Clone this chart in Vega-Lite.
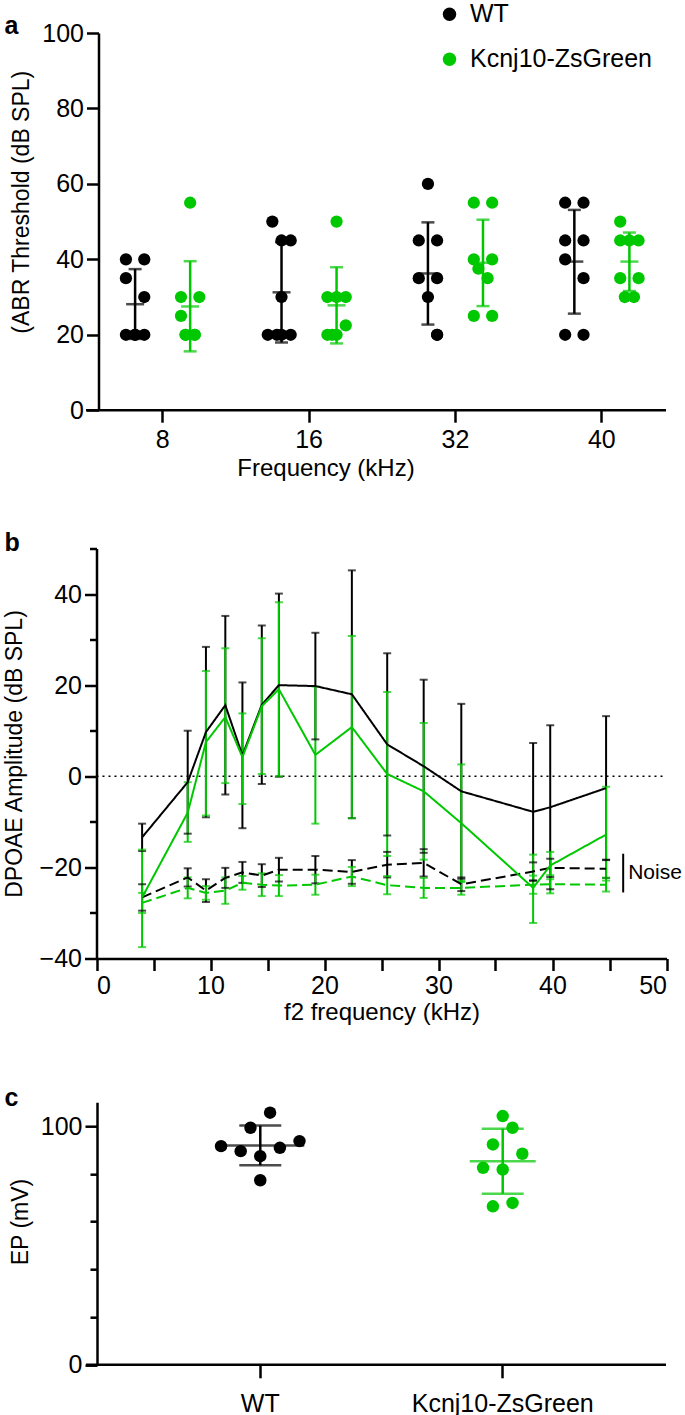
{
  "$schema": "https://vega.github.io/schema/vega-lite/v6.json",
  "padding": {"left": 3, "top": 1, "right": 0, "bottom": 0},
  "background": "white",
  "config": {
    "font": "Liberation Sans",
    "view": {"stroke": null},
    "axis": {"domainColor": "#000", "domainWidth": 2.5, "tickColor": "#000", "tickWidth": 2.5, "tickSize": 12, "labelColor": "#000", "labelFontSize": 25, "titleColor": "#000", "titleFontSize": 24, "titleFontWeight": "normal", "grid": false, "labelPadding": 3},
    "title": {"fontSize": 25, "fontWeight": "bold", "color": "#000", "anchor": "start", "frame": "group"}
  },
  "datasets": {
    "abrPts": [
      {"freq": "8", "g": "WT", "v": 40, "col": 2}, {"freq": "8", "g": "WT", "v": 40, "col": 6}, {"freq": "8", "g": "WT", "v": 35, "col": 2}, {"freq": "8", "g": "WT", "v": 30, "col": 6},
      {"freq": "8", "g": "WT", "v": 20, "col": 2}, {"freq": "8", "g": "WT", "v": 20, "col": 4}, {"freq": "8", "g": "WT", "v": 20, "col": 6}, {"freq": "8", "g": "WT", "v": 20, "col": 4},
      {"freq": "8", "g": "Kcnj10-ZsGreen", "v": 55, "col": 16}, {"freq": "8", "g": "Kcnj10-ZsGreen", "v": 30, "col": 14}, {"freq": "8", "g": "Kcnj10-ZsGreen", "v": 30, "col": 18}, {"freq": "8", "g": "Kcnj10-ZsGreen", "v": 25, "col": 14},
      {"freq": "8", "g": "Kcnj10-ZsGreen", "v": 20, "col": 15}, {"freq": "8", "g": "Kcnj10-ZsGreen", "v": 20, "col": 17}, {"freq": "8", "g": "Kcnj10-ZsGreen", "v": 20, "col": 15}, {"freq": "8", "g": "Kcnj10-ZsGreen", "v": 20, "col": 17},
      {"freq": "16", "g": "WT", "v": 50, "col": 2}, {"freq": "16", "g": "WT", "v": 45, "col": 4}, {"freq": "16", "g": "WT", "v": 45, "col": 6}, {"freq": "16", "g": "WT", "v": 30, "col": 4},
      {"freq": "16", "g": "WT", "v": 20, "col": 1}, {"freq": "16", "g": "WT", "v": 20, "col": 3}, {"freq": "16", "g": "WT", "v": 20, "col": 4}, {"freq": "16", "g": "WT", "v": 20, "col": 6},
      {"freq": "16", "g": "Kcnj10-ZsGreen", "v": 50, "col": 16}, {"freq": "16", "g": "Kcnj10-ZsGreen", "v": 30, "col": 14}, {"freq": "16", "g": "Kcnj10-ZsGreen", "v": 30, "col": 16}, {"freq": "16", "g": "Kcnj10-ZsGreen", "v": 30, "col": 18},
      {"freq": "16", "g": "Kcnj10-ZsGreen", "v": 22.5, "col": 18}, {"freq": "16", "g": "Kcnj10-ZsGreen", "v": 20, "col": 14}, {"freq": "16", "g": "Kcnj10-ZsGreen", "v": 20, "col": 16}, {"freq": "16", "g": "Kcnj10-ZsGreen", "v": 20, "col": 15},
      {"freq": "32", "g": "WT", "v": 60, "col": 4}, {"freq": "32", "g": "WT", "v": 45, "col": 2}, {"freq": "32", "g": "WT", "v": 45, "col": 6}, {"freq": "32", "g": "WT", "v": 35, "col": 2},
      {"freq": "32", "g": "WT", "v": 35, "col": 6}, {"freq": "32", "g": "WT", "v": 30, "col": 4}, {"freq": "32", "g": "WT", "v": 20, "col": 6}, {"freq": "32", "g": "WT", "v": 20, "col": 6},
      {"freq": "32", "g": "Kcnj10-ZsGreen", "v": 55, "col": 14}, {"freq": "32", "g": "Kcnj10-ZsGreen", "v": 55, "col": 18}, {"freq": "32", "g": "Kcnj10-ZsGreen", "v": 40, "col": 14}, {"freq": "32", "g": "Kcnj10-ZsGreen", "v": 40, "col": 18},
      {"freq": "32", "g": "Kcnj10-ZsGreen", "v": 37.5, "col": 15}, {"freq": "32", "g": "Kcnj10-ZsGreen", "v": 35, "col": 17}, {"freq": "32", "g": "Kcnj10-ZsGreen", "v": 25, "col": 14}, {"freq": "32", "g": "Kcnj10-ZsGreen", "v": 25, "col": 18},
      {"freq": "40", "g": "WT", "v": 55, "col": 2}, {"freq": "40", "g": "WT", "v": 55, "col": 6}, {"freq": "40", "g": "WT", "v": 45, "col": 2}, {"freq": "40", "g": "WT", "v": 45, "col": 6},
      {"freq": "40", "g": "WT", "v": 40, "col": 2}, {"freq": "40", "g": "WT", "v": 35, "col": 6}, {"freq": "40", "g": "WT", "v": 20, "col": 2}, {"freq": "40", "g": "WT", "v": 20, "col": 6},
      {"freq": "40", "g": "Kcnj10-ZsGreen", "v": 50, "col": 14}, {"freq": "40", "g": "Kcnj10-ZsGreen", "v": 45, "col": 14}, {"freq": "40", "g": "Kcnj10-ZsGreen", "v": 45, "col": 16}, {"freq": "40", "g": "Kcnj10-ZsGreen", "v": 45, "col": 18},
      {"freq": "40", "g": "Kcnj10-ZsGreen", "v": 35, "col": 14}, {"freq": "40", "g": "Kcnj10-ZsGreen", "v": 35, "col": 18}, {"freq": "40", "g": "Kcnj10-ZsGreen", "v": 30, "col": 15}, {"freq": "40", "g": "Kcnj10-ZsGreen", "v": 30, "col": 17}
    ],
    "abrSum": [
      {"freq": "8", "g": "WT", "col": 4, "m": 28.1, "lo": 18.9, "hi": 37.4},
      {"freq": "8", "g": "Kcnj10-ZsGreen", "col": 16, "m": 27.5, "lo": 15.6, "hi": 39.5},
      {"freq": "16", "g": "WT", "col": 4, "m": 31.25, "lo": 17.95, "hi": 44.55},
      {"freq": "16", "g": "Kcnj10-ZsGreen", "col": 16, "m": 27.8, "lo": 17.7, "hi": 37.9},
      {"freq": "32", "g": "WT", "col": 4, "m": 36.25, "lo": 22.7, "hi": 49.8},
      {"freq": "32", "g": "Kcnj10-ZsGreen", "col": 16, "m": 39.1, "lo": 27.6, "hi": 50.5},
      {"freq": "40", "g": "WT", "col": 4, "m": 39.4, "lo": 25.6, "hi": 53.1},
      {"freq": "40", "g": "Kcnj10-ZsGreen", "col": 16, "m": 39.4, "lo": 31.6, "hi": 47.1}
    ],
    "dpoae": [
      {"f": 4, "g": "WT", "t": "DPOAE", "m": -13.4, "lo": -16.4, "hi": -10.4},
      {"f": 8, "g": "WT", "t": "DPOAE", "m": -1.3, "lo": -12.6, "hi": 10.0},
      {"f": 9.6, "g": "WT", "t": "DPOAE", "m": 9.7, "lo": -9.0, "hi": 28.4},
      {"f": 11.3, "g": "WT", "t": "DPOAE", "m": 15.6, "lo": -4.0, "hi": 35.2},
      {"f": 12.8, "g": "WT", "t": "DPOAE", "m": 4.6, "lo": -11.4, "hi": 20.6},
      {"f": 14.5, "g": "WT", "t": "DPOAE", "m": 15.7, "lo": -1.7, "hi": 33.1},
      {"f": 16, "g": "WT", "t": "DPOAE", "m": 20.0, "lo": -0.1, "hi": 40.1},
      {"f": 19.2, "g": "WT", "t": "DPOAE", "m": 19.8, "lo": 8.1, "hi": 31.5},
      {"f": 22.4, "g": "WT", "t": "DPOAE", "m": 18.0, "lo": -9.2, "hi": 45.2},
      {"f": 25.5, "g": "WT", "t": "DPOAE", "m": 7.0, "lo": -13.0, "hi": 27.0},
      {"f": 28.7, "g": "WT", "t": "DPOAE", "m": 2.2, "lo": -16.8, "hi": 21.2},
      {"f": 32, "g": "WT", "t": "DPOAE", "m": -3.3, "lo": -22.5, "hi": 15.9},
      {"f": 38.3, "g": "WT", "t": "DPOAE", "m": -7.8, "lo": -22.9, "hi": 7.3},
      {"f": 39.8, "g": "WT", "t": "DPOAE", "m": -6.8, "lo": -24.8, "hi": 11.2},
      {"f": 44.7, "g": "WT", "t": "DPOAE", "m": -2.6, "lo": -18.4, "hi": 13.2},
      {"f": 4, "g": "WT", "t": "Noise", "m": -26.6, "lo": -29.5, "hi": -23.7},
      {"f": 8, "g": "WT", "t": "Noise", "m": -22.2, "lo": -24.2, "hi": -20.2},
      {"f": 9.6, "g": "WT", "t": "Noise", "m": -25.1, "lo": -27.6, "hi": -22.6},
      {"f": 11.3, "g": "WT", "t": "Noise", "m": -22.3, "lo": -24.5, "hi": -20.1},
      {"f": 12.8, "g": "WT", "t": "Noise", "m": -21.1, "lo": -23.4, "hi": -18.8},
      {"f": 14.5, "g": "WT", "t": "Noise", "m": -21.8, "lo": -24.3, "hi": -19.3},
      {"f": 16, "g": "WT", "t": "Noise", "m": -20.5, "lo": -23.1, "hi": -17.9},
      {"f": 19.2, "g": "WT", "t": "Noise", "m": -20.5, "lo": -23.5, "hi": -17.5},
      {"f": 22.4, "g": "WT", "t": "Noise", "m": -21.0, "lo": -23.6, "hi": -18.4},
      {"f": 25.5, "g": "WT", "t": "Noise", "m": -19.4, "lo": -22.2, "hi": -16.6},
      {"f": 28.7, "g": "WT", "t": "Noise", "m": -19.0, "lo": -22.0, "hi": -16.0},
      {"f": 32, "g": "WT", "t": "Noise", "m": -23.7, "lo": -25.2, "hi": -22.2},
      {"f": 38.3, "g": "WT", "t": "Noise", "m": -20.9, "lo": -22.9, "hi": -18.9},
      {"f": 39.8, "g": "WT", "t": "Noise", "m": -20.1, "lo": -22.1, "hi": -18.1},
      {"f": 44.7, "g": "WT", "t": "Noise", "m": -20.3, "lo": -22.3, "hi": -18.3},
      {"f": 4, "g": "Kcnj10-ZsGreen", "t": "DPOAE", "m": -26.6, "lo": -37.5, "hi": -16.1},
      {"f": 8, "g": "Kcnj10-ZsGreen", "t": "DPOAE", "m": -8.0, "lo": -14.4, "hi": -1.3},
      {"f": 9.6, "g": "Kcnj10-ZsGreen", "t": "DPOAE", "m": 7.5, "lo": -8.6, "hi": 23.1},
      {"f": 11.3, "g": "Kcnj10-ZsGreen", "t": "DPOAE", "m": 13.0, "lo": -1.5, "hi": 28.1},
      {"f": 12.8, "g": "Kcnj10-ZsGreen", "t": "DPOAE", "m": 4.2, "lo": -6.1, "hi": 13.8},
      {"f": 14.5, "g": "Kcnj10-ZsGreen", "t": "DPOAE", "m": 15.4, "lo": 0.5, "hi": 30.3},
      {"f": 16, "g": "Kcnj10-ZsGreen", "t": "DPOAE", "m": 19.1, "lo": 0.0, "hi": 38.2},
      {"f": 19.2, "g": "Kcnj10-ZsGreen", "t": "DPOAE", "m": 4.7, "lo": -10.4, "hi": 19.7},
      {"f": 22.4, "g": "Kcnj10-ZsGreen", "t": "DPOAE", "m": 10.8, "lo": -9.2, "hi": 30.8},
      {"f": 25.5, "g": "Kcnj10-ZsGreen", "t": "DPOAE", "m": 0.5, "lo": -17.5, "hi": 18.5},
      {"f": 28.7, "g": "Kcnj10-ZsGreen", "t": "DPOAE", "m": -3.3, "lo": -18.3, "hi": 11.7},
      {"f": 32, "g": "Kcnj10-ZsGreen", "t": "DPOAE", "m": -10.3, "lo": -23.2, "hi": 2.6},
      {"f": 38.3, "g": "Kcnj10-ZsGreen", "t": "DPOAE", "m": -24.5, "lo": -32.2, "hi": -17.2},
      {"f": 39.8, "g": "Kcnj10-ZsGreen", "t": "DPOAE", "m": -19.6, "lo": -22.6, "hi": -16.6},
      {"f": 44.7, "g": "Kcnj10-ZsGreen", "t": "DPOAE", "m": -12.8, "lo": -22.9, "hi": -2.3},
      {"f": 4, "g": "Kcnj10-ZsGreen", "t": "Noise", "m": -27.8, "lo": -30.0, "hi": -25.6},
      {"f": 8, "g": "Kcnj10-ZsGreen", "t": "Noise", "m": -24.5, "lo": -26.8, "hi": -22.2},
      {"f": 9.6, "g": "Kcnj10-ZsGreen", "t": "Noise", "m": -25.6, "lo": -27.1, "hi": -24.1},
      {"f": 11.3, "g": "Kcnj10-ZsGreen", "t": "Noise", "m": -25.1, "lo": -28.0, "hi": -22.2},
      {"f": 12.8, "g": "Kcnj10-ZsGreen", "t": "Noise", "m": -23.4, "lo": -24.9, "hi": -21.9},
      {"f": 14.5, "g": "Kcnj10-ZsGreen", "t": "Noise", "m": -23.8, "lo": -26.3, "hi": -21.3},
      {"f": 16, "g": "Kcnj10-ZsGreen", "t": "Noise", "m": -24.0, "lo": -26.3, "hi": -21.7},
      {"f": 19.2, "g": "Kcnj10-ZsGreen", "t": "Noise", "m": -23.8, "lo": -26.0, "hi": -21.6},
      {"f": 22.4, "g": "Kcnj10-ZsGreen", "t": "Noise", "m": -22.0, "lo": -24.1, "hi": -19.9},
      {"f": 25.5, "g": "Kcnj10-ZsGreen", "t": "Noise", "m": -23.9, "lo": -25.9, "hi": -21.9},
      {"f": 28.7, "g": "Kcnj10-ZsGreen", "t": "Noise", "m": -24.5, "lo": -26.7, "hi": -22.3},
      {"f": 32, "g": "Kcnj10-ZsGreen", "t": "Noise", "m": -24.5, "lo": -26.0, "hi": -23.0},
      {"f": 38.3, "g": "Kcnj10-ZsGreen", "t": "Noise", "m": -23.8, "lo": -25.8, "hi": -21.8},
      {"f": 39.8, "g": "Kcnj10-ZsGreen", "t": "Noise", "m": -23.7, "lo": -25.7, "hi": -21.7},
      {"f": 44.7, "g": "Kcnj10-ZsGreen", "t": "Noise", "m": -23.8, "lo": -25.3, "hi": -22.3}
    ],
    "epPts": [
      {"g": "WT", "v": 105.6, "col": 1}, {"g": "WT", "v": 99.3, "col": -1}, {"g": "WT", "v": 91.6, "col": -4}, {"g": "WT", "v": 89.5, "col": -2},
      {"g": "WT", "v": 87.4, "col": 0}, {"g": "WT", "v": 90.9, "col": 2}, {"g": "WT", "v": 93.7, "col": 4}, {"g": "WT", "v": 77.3, "col": 0},
      {"g": "Kcnj10-ZsGreen", "v": 104.2, "col": 0}, {"g": "Kcnj10-ZsGreen", "v": 99.3, "col": 1}, {"g": "Kcnj10-ZsGreen", "v": 92.3, "col": -1}, {"g": "Kcnj10-ZsGreen", "v": 88.4, "col": 2},
      {"g": "Kcnj10-ZsGreen", "v": 82.5, "col": -2}, {"g": "Kcnj10-ZsGreen", "v": 81.8, "col": 0}, {"g": "Kcnj10-ZsGreen", "v": 66.4, "col": -1}, {"g": "Kcnj10-ZsGreen", "v": 67.8, "col": 1}
    ],
    "epSum": [
      {"g": "WT", "col": 0, "m": 91.9, "lo": 83.6, "hi": 100.2},
      {"g": "Kcnj10-ZsGreen", "col": 0, "m": 85.3, "lo": 71.7, "hi": 98.9}
    ]
  },
  "bounds": "flush",
  "spacing": 137.5,
  "resolve": {"scale": {"color": "independent", "xOffset": "independent"}, "legend": {"color": "independent"}},
  "vconcat": [
    {
      "width": 580,
      "height": 377.2,
      "title": {"text": "a", "dx": -81.5, "offset": -37},
      "encoding": {
        "x": {"field": "freq", "type": "nominal", "scale": {"domain": ["8", "16", "32", "40"], "range": [12.5, 580], "paddingInner": 0.342, "paddingOuter": 0.109},
              "axis": {"title": "Frequency (kHz)", "titleX": 239.5, "labelAngle": 0, "domain": false, "tickSize": 12, "labelPadding": 5, "titlePadding": 4}},
        "xOffset": {"field": "col", "type": "ordinal", "scale": {"domain": [0,1,2,3,4,5,6,7,8,9,10,11,12,13,14,15,16,17,18,19,20], "paddingInner": 0, "paddingOuter": 0}}
      },
      "layer": [
        {
          "data": {"name": "abrPts"},
          "mark": {"type": "circle", "size": 150, "opacity": 1},
          "encoding": {
            "y": {"field": "v", "type": "quantitative", "scale": {"domain": [0, 100], "nice": false},
                  "axis": {"title": "(ABR Threshold (dB SPL)", "titleFontSize": 23, "values": [0, 20, 40, 60, 80, 100], "offset": -12.5, "titleY": 168.7, "titlePadding": 8}},
            "color": {"field": "g", "type": "nominal", "scale": {"domain": ["WT", "Kcnj10-ZsGreen"], "range": ["#000000", "#00c800"]},
                      "legend": {"orient": "none", "legendX": 351, "legendY": -31.3, "title": null, "labelFontSize": 25, "labelColor": "#000", "labelLimit": 400, "symbolSize": 180, "symbolType": "circle", "rowPadding": 19, "labelOffset": 8, "symbolStrokeWidth": 0}}
          }
        },
        {
          "mark": {"type": "rule", "strokeWidth": 2.5},
          "data": {"values": [{"z": 0}]},
          "encoding": {"x": null, "xOffset": null, "y": {"field": "z", "type": "quantitative"}}
        },
        {
          "data": {"name": "abrSum"},
          "mark": {"type": "rule", "strokeWidth": 2.5},
          "encoding": {"y": {"field": "lo", "type": "quantitative"}, "y2": {"field": "hi"}, "color": {"field": "g", "type": "nominal", "legend": null}}
        },
        {
          "data": {"name": "abrSum"},
          "mark": {"type": "tick", "orient": "horizontal", "size": 18, "thickness": 2.5},
          "encoding": {"y": {"field": "m", "type": "quantitative"}, "color": {"field": "g", "type": "nominal", "legend": null}}
        },
        {
          "data": {"name": "abrSum"},
          "mark": {"type": "tick", "orient": "horizontal", "size": 13, "thickness": 2.5},
          "encoding": {"y": {"field": "lo", "type": "quantitative"}, "color": {"field": "g", "type": "nominal", "legend": null}}
        },
        {
          "data": {"name": "abrSum"},
          "mark": {"type": "tick", "orient": "horizontal", "size": 13, "thickness": 2.5},
          "encoding": {"y": {"field": "hi", "type": "quantitative"}, "color": {"field": "g", "type": "nominal", "legend": null}}
        }
      ]
    },
    {
      "bounds": "flush",
      "spacing": 143.7,
      "vconcat": [
        {
          "width": 581,
          "height": 410,
          "title": {"text": "b", "dx": -81.5, "offset": -9},
          "data": {"name": "dpoae"},
          "encoding": {
            "x": {"field": "f", "type": "quantitative", "scale": {"domain": [0, 50], "range": [10.5, 580.5], "nice": false, "zero": false},
                  "axis": {"title": "f2 frequency (kHz)", "values": [0, 5, 10, 15, 20, 25, 30, 35, 40, 45, 50], "labelExpr": "datum.value % 10 === 0 ? datum.label : ''", "tickSize": 12, "labelPadding": 3, "titlePadding": 2}}
          },
          "layer": [
            {
              "transform": [{"filter": "datum.f === 44.7 && datum.g === 'WT' && datum.t === 'Noise'"}],
              "mark": {"type": "rule", "strokeWidth": 1.6, "strokeDash": [2, 4], "color": "#000"},
              "encoding": {"x": {"datum": 0}, "x2": {"datum": 50}, "y": {"datum": 0, "type": "quantitative"}}
            },
            {
              "mark": {"type": "rule", "strokeWidth": 2},
              "encoding": {
                "y": {"field": "lo", "type": "quantitative", "scale": {"domain": [-40, 50], "nice": false},
                      "axis": {"title": "DPOAE Amplitude (dB SPL)", "titleFontSize": 23, "values": [-40, -30, -20, -10, 0, 10, 20, 30, 40, 50], "labelExpr": "datum.value % 20 === 0 ? datum.label : ''", "tickSize": {"condition": {"test": "datum.value % 20 === 0", "value": 12}, "value": 7}, "offset": -10.5, "titlePadding": 13}},
                "y2": {"field": "hi"},
                "color": {"field": "g", "type": "nominal", "scale": {"domain": ["WT", "Kcnj10-ZsGreen"], "range": ["#000000", "#00c800"]}, "legend": null}
              }
            },
            {
              "mark": {"type": "tick", "orient": "horizontal", "size": 8, "thickness": 2},
              "encoding": {"y": {"field": "lo", "type": "quantitative"}, "color": {"field": "g", "type": "nominal", "legend": null}}
            },
            {
              "mark": {"type": "tick", "orient": "horizontal", "size": 8, "thickness": 2},
              "encoding": {"y": {"field": "hi", "type": "quantitative"}, "color": {"field": "g", "type": "nominal", "legend": null}}
            },
            {
              "mark": {"type": "line", "strokeWidth": 2},
              "encoding": {
                "y": {"field": "m", "type": "quantitative"},
                "color": {"field": "g", "type": "nominal", "legend": null},
                "strokeDash": {"field": "t", "type": "nominal", "scale": {"domain": ["DPOAE", "Noise"], "range": [[1, 0], [10, 5]]}, "legend": null}
              }
            },
            {
              "transform": [{"filter": "datum.f === 44.7 && datum.g === 'WT' && datum.t === 'Noise'"}],
              "mark": {"type": "rule", "strokeWidth": 2, "color": "#000"},
              "encoding": {"x": {"datum": 46.2, "type": "quantitative"}, "y": {"datum": -17, "type": "quantitative"}, "y2": {"datum": -25.5}}
            },
            {
              "transform": [{"filter": "datum.f === 44.7 && datum.g === 'WT' && datum.t === 'Noise'"}],
              "mark": {"type": "text", "fontSize": 21, "align": "left", "baseline": "middle", "color": "#000", "dx": 5},
              "encoding": {"x": {"datum": 46.2, "type": "quantitative"}, "y": {"datum": -21.3, "type": "quantitative"}, "text": {"field": "t"}}
            }
          ]
        },
        {
          "width": 580,
          "height": 262.6,
          "title": {"text": "c", "dx": -81.5, "offset": -9},
          "encoding": {
            "x": {"field": "g", "type": "nominal", "scale": {"domain": ["WT", "Kcnj10-ZsGreen"], "range": [11, 580], "paddingInner": 0.636, "paddingOuter": 0.4915},
                  "axis": {"title": null, "labelAngle": 0, "domain": false, "tickSize": 13, "labelPadding": 14, "labelLimit": 400}},
            "xOffset": {"field": "col", "type": "ordinal", "scale": {"domain": [-4, -3, -2, -1, 0, 1, 2, 3, 4], "paddingInner": 0, "paddingOuter": 0}},
            "color": {"field": "g", "type": "nominal", "scale": {"domain": ["WT", "Kcnj10-ZsGreen"], "range": ["#000000", "#00c800"]}, "legend": null}
          },
          "layer": [
            {
              "data": {"name": "epPts"},
              "mark": {"type": "circle", "size": 155, "opacity": 1},
              "encoding": {
                "y": {"field": "v", "type": "quantitative", "scale": {"domain": [0, 110], "nice": false},
                      "axis": {"title": "EP (mV)", "titleFontSize": 23, "values": [0, 10, 20, 30, 40, 50, 60, 70, 80, 90, 100, 110], "labelExpr": "datum.value % 50 === 0 ? datum.label : ''", "tickSize": {"condition": {"test": "datum.value % 50 === 0", "value": 12}, "value": 7}, "offset": -11, "titleY": 119.3, "titlePadding": 8}}
              }
            },
            {
              "data": {"values": [{"z": 0}]},
              "mark": {"type": "rule", "strokeWidth": 2.5, "color": "#000"},
              "encoding": {"x": null, "xOffset": null, "color": null, "y": {"field": "z", "type": "quantitative"}}
            },
            {
              "data": {"name": "epSum"},
              "mark": {"type": "rule", "strokeWidth": 2.5},
              "encoding": {"y": {"field": "lo", "type": "quantitative"}, "y2": {"field": "hi"}}
            },
            {
              "data": {"name": "epSum"},
              "transform": [{"filter": "datum.g === 'WT'"}],
              "mark": {"type": "tick", "orient": "horizontal", "size": 88, "thickness": 2.5},
              "encoding": {"y": {"field": "m", "type": "quantitative"}}
            },
            {
              "data": {"name": "epSum"},
              "transform": [{"filter": "datum.g !== 'WT'"}],
              "mark": {"type": "tick", "orient": "horizontal", "size": 66, "thickness": 2.5},
              "encoding": {"y": {"field": "m", "type": "quantitative"}}
            },
            {
              "data": {"name": "epSum"},
              "mark": {"type": "tick", "orient": "horizontal", "size": 42, "thickness": 2.5},
              "encoding": {"y": {"field": "lo", "type": "quantitative"}}
            },
            {
              "data": {"name": "epSum"},
              "mark": {"type": "tick", "orient": "horizontal", "size": 42, "thickness": 2.5},
              "encoding": {"y": {"field": "hi", "type": "quantitative"}}
            }
          ]
        }
      ]
    }
  ]
}
